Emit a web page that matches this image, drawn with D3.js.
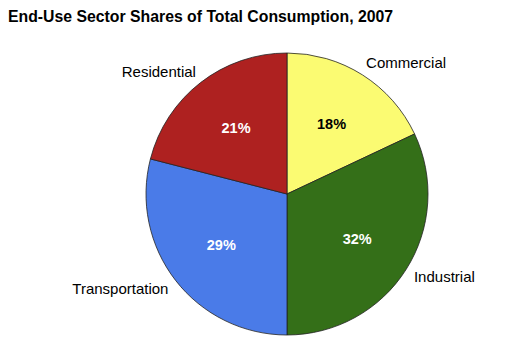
<!DOCTYPE html>
<html>
<head>
<meta charset="utf-8">
<script src="https://cdn.jsdelivr.net/npm/d3@7"></script>
<style>
  body { margin: 0; background: white; }
  text { font-family: "Liberation Sans", Arial, sans-serif; }
</style>
</head>
<body>
<div id="container"></div>
<script>
/* CONSTANTS AND GLOBALS */
const width = 510,
  height = 344,
  cx = 287,
  cy = 194,
  radius = 141;

/* DATA */
const sectors = ["Commercial", "Industrial", "Transportation", "Residential"];
const shares = [18, 32, 29, 21];
const colors = ["#fbfb72", "#346f18", "#4a7be8", "#ae2120"];
const pctColors = ["#000", "#fff", "#fff", "#fff"];

const data = sectors.map((s, i) => ({ sector: s, value: shares[i], i }));

const svg = d3.select("#container")
  .append("svg")
  .attr("width", width)
  .attr("height", height)
  .style("background-color", "white");

/* TITLE */
svg.append("text")
  .attr("x", 8)
  .attr("y", 22)
  .attr("font-size", 15.8)
  .attr("font-weight", "bold")
  .text("End-Use Sector Shares of Total Consumption, 2007");

/* PIE */
const pie = d3.pie().sort(null).value(d => d.value);
const arc = d3.arc().innerRadius(0).outerRadius(radius);
const labelArc = d3.arc().innerRadius(radius * 0.59).outerRadius(radius * 0.59);
const outerArc = d3.arc().innerRadius(radius * 1.1).outerRadius(radius * 1.1);

const arcs = pie(data);
const g = svg.append("g").attr("transform", `translate(${cx},${cy})`);

g.selectAll("path")
  .data(arcs)
  .join("path")
  .attr("d", arc)
  .attr("fill", d => colors[d.data.i])
  .attr("stroke", "#222")
  .attr("stroke-width", 0.8);

g.selectAll(".pct")
  .data(arcs)
  .join("text")
  .attr("class", "pct")
  .attr("transform", d => `translate(${labelArc.centroid(d)})`)
  .attr("text-anchor", "middle")
  .attr("dy", "0.35em")
  .attr("font-size", 14.5)
  .attr("font-weight", "bold")
  .attr("fill", d => pctColors[d.data.i])
  .text(d => d.data.value + "%");

g.selectAll(".lbl")
  .data(arcs)
  .join("text")
  .attr("class", "lbl")
  .attr("transform", d => `translate(${outerArc.centroid(d)})`)
  .attr("text-anchor", d => (d.startAngle + d.endAngle) / 2 < Math.PI ? "start" : "end")
  .attr("dx", d => (d.startAngle + d.endAngle) / 2 < Math.PI ? -4 : 4)
  .attr("dy", "0.35em")
  .attr("font-size", 15)
  .text(d => d.data.sector);
</script>
</body>
</html>
